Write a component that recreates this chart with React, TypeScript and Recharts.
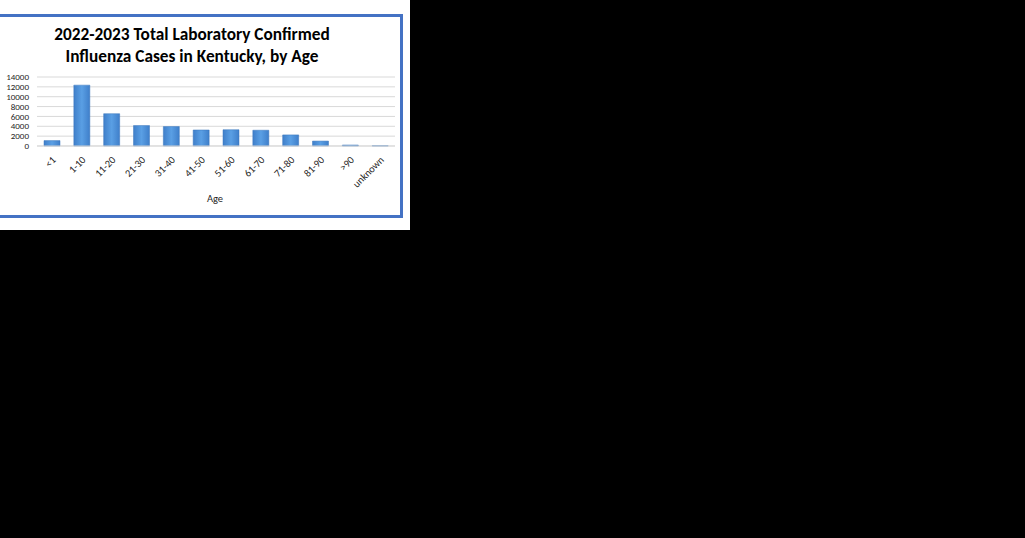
import React from "react";
import { BarChart, Bar, XAxis, YAxis, CartesianGrid } from "recharts";

const categories = ["<1", "1-10", "11-20", "21-30", "31-40", "41-50", "51-60", "61-70", "71-80", "81-90", ">90", "unknown"];
const cases = [1100, 12350, 6550, 4150, 3950, 3250, 3300, 3200, 2250, 1000, 200, 50];
const yTicks = [0, 2000, 4000, 6000, 8000, 10000, 12000, 14000];
const titleLines = ["2022-2023 Total Laboratory Confirmed", "Influenza Cases in Kentucky, by Age"];
const xTitle = "Age";

const data = categories.map((c, i) => ({ age: c, cases: cases[i] }));

const FONT = "Carlito, Lato, 'Open Sans', sans-serif";

const XTick = (props: any) => {
  const { x, y, payload } = props;
  return (
    <g transform={`translate(${x + 2},${y + 4})`}>
      <text transform="rotate(-45)" textAnchor="end" dy="0.35em" fontSize={10.3} fill="#262626" fontFamily={FONT}>
        {payload.value}
      </text>
    </g>
  );
};

export default function App() {
  return (
    <div style={{ position: "absolute", left: 0, top: 0, width: 1025, height: 538, background: "#000", overflow: "hidden" }}>
      <div style={{ position: "absolute", left: 0, top: 0, width: 410, height: 230, background: "#fff", overflow: "hidden" }}>
        <div style={{ position: "absolute", left: -10, top: 14, width: 407, height: 198, border: "3px solid #4472C4" }} />
        <div style={{ position: "absolute", left: 0, top: 24, width: 384, textAlign: "center", fontFamily: FONT, fontWeight: 700, fontSize: 17.3, lineHeight: "22px", color: "#000" }}>
          <div>{titleLines[0]}</div>
          <div>{titleLines[1]}</div>
        </div>
        <div style={{ position: "absolute", left: 0, top: 0 }}>
          <BarChart width={410} height={230} data={data} margin={{ top: 77, right: 15, left: 0, bottom: 24 }} barSize={16}>
            <defs>
              <linearGradient id="barGrad" x1="0" y1="0" x2="1" y2="0">
                <stop offset="0%" stopColor="#3f7fca" />
                <stop offset="50%" stopColor="#5a9fe4" />
                <stop offset="100%" stopColor="#3f7fca" />
              </linearGradient>
            </defs>
            <CartesianGrid vertical={false} stroke="#d9d9d9" strokeWidth={1} />
            <XAxis dataKey="age" height={60} tick={<XTick />} tickLine={false} axisLine={{ stroke: "#d9d9d9" }} interval={0} />
            <YAxis width={37} domain={[0, 14000]} ticks={yTicks} tickLine={false} axisLine={false} interval={0}
              tick={{ fontSize: 9, fill: "#262626", fontFamily: FONT }} />
            <Bar dataKey="cases" fill="url(#barGrad)" stroke="#3a76bd" strokeWidth={0.5} isAnimationActive={false} />
          </BarChart>
        </div>
        <div style={{ position: "absolute", left: 165, top: 192, width: 100, textAlign: "center", fontFamily: FONT, fontSize: 10.5, color: "#262626" }}>{xTitle}</div>
      </div>
    </div>
  );
}
